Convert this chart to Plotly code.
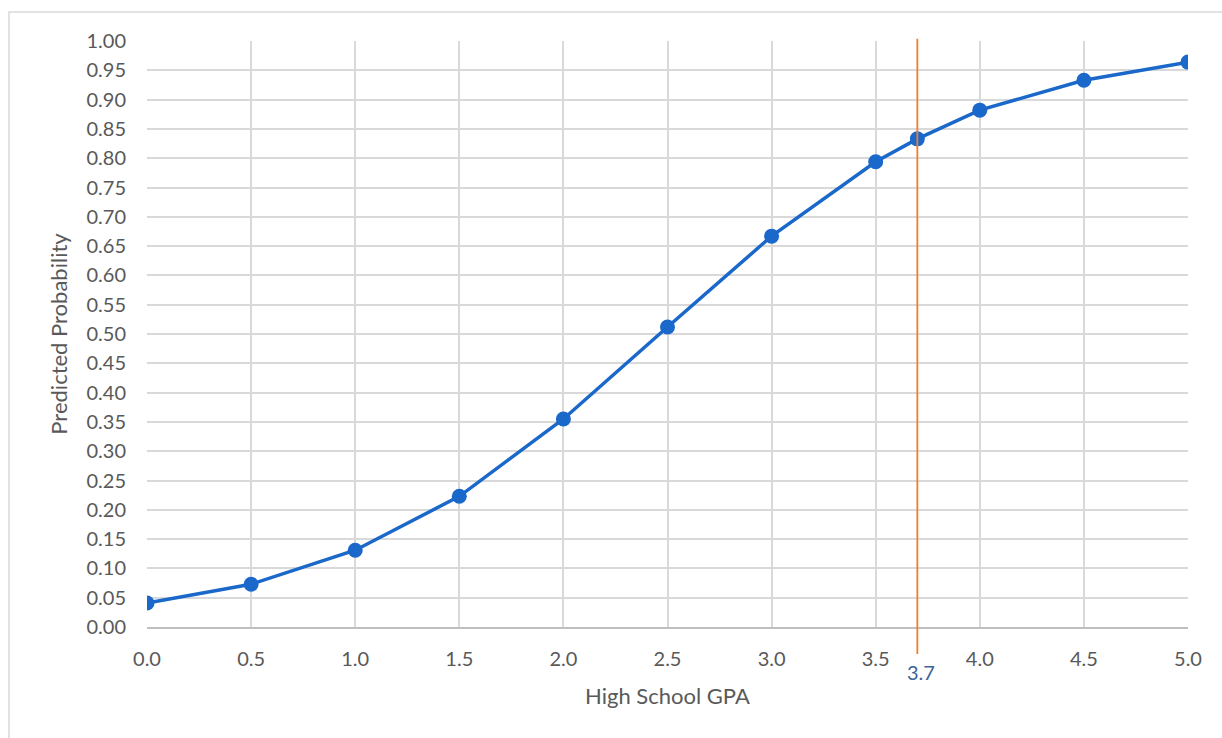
import plotly.graph_objects as go

# Predicted probability by high school GPA (logistic fit)
gpa = [0.0, 0.5, 1.0, 1.5, 2.0, 2.5, 3.0, 3.5, 3.7, 4.0, 4.5, 5.0]
prob = [0.041, 0.073, 0.131, 0.223, 0.355, 0.512, 0.667, 0.794, 0.833, 0.882, 0.933, 0.964]
marker_gpa = 3.7
marker_label = "3.7"

x_ticks = [i * 0.5 for i in range(11)]
y_ticks = [i * 0.05 for i in range(21)]

font_family = "Lato, 'Open Sans', sans-serif"
tick_color = "#595959"

fig = go.Figure()
fig.add_trace(go.Scatter(
    x=gpa, y=prob, mode="lines+markers",
    line=dict(color="#1a68c9", width=3.5),
    marker=dict(color="#1a68c9", size=15),
    showlegend=False, hoverinfo="x+y",
))

fig.update_layout(
    width=1222, height=738,
    margin=dict(l=147, r=34, t=41, b=111),
    paper_bgcolor="white", plot_bgcolor="white",
    font=dict(family=font_family, size=20, color=tick_color),
    xaxis=dict(
        range=[0, 5], tickvals=x_ticks, ticktext=[f"{v:.1f}" for v in x_ticks],
        showgrid=True, gridcolor="#d9d9d9", gridwidth=1.5,
        showline=True, linecolor="#bfbfbf", linewidth=1.5,
        zeroline=False, ticks="", ticklabelstandoff=13,
        title=dict(text="High School GPA", font=dict(size=22, color=tick_color), standoff=20),
    ),
    yaxis=dict(
        range=[0, 1], tickvals=y_ticks, ticktext=[f"{v:.2f}" for v in y_ticks],
        showgrid=True, gridcolor="#d9d9d9", gridwidth=1.5,
        showline=False, zeroline=False, ticks="", ticklabelstandoff=20,
        title=dict(text="Predicted Probability", font=dict(size=22, color=tick_color), standoff=12),
    ),
)

# Chart-area frame
fig.add_shape(type="rect", xref="paper", yref="paper",
              x0=-0.1326, x1=1.06, y0=-0.22, y1=1.0495,
              line=dict(color="#d9d9d9", width=1.5), layer="below")

# Reference line at the selected GPA
fig.add_shape(type="line", xref="x", yref="paper",
              x0=marker_gpa, x1=marker_gpa, y0=-0.046, y1=1.004,
              line=dict(color="#f47b28", width=1.8))
fig.add_annotation(x=marker_gpa, xref="x", y=-0.077, yref="paper",
                   yanchor="middle", xanchor="center",
                   text=marker_label, showarrow=False, xshift=4,
                   font=dict(size=20, color="#3e6396", family=font_family))

fig.write_html("out.html")
